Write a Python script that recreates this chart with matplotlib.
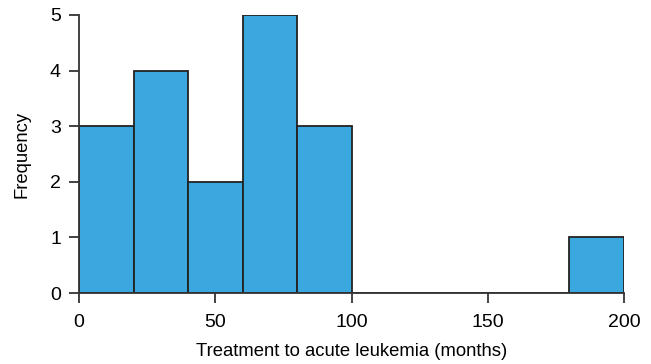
import numpy as np
import matplotlib
matplotlib.use("Agg")
import matplotlib.pyplot as plt

plt.rcParams['font.family'] = ['Liberation Sans', 'DejaVu Sans']

BIN_EDGES = [0, 20, 40, 60, 80, 100, 120, 140, 160, 180, 200]
COUNTS = [3, 4, 2, 5, 3, 0, 0, 0, 0, 1]
X_TICKS = [0, 50, 100, 150, 200]
Y_TICKS = [0, 1, 2, 3, 4, 5]

fig = plt.figure(figsize=(6.51, 3.64), dpi=100)
ax = fig.add_axes([0.1214, 0.195, 0.8371, 0.7638])

left = np.array(BIN_EDGES[:-1])
width = np.diff(BIN_EDGES)
ax.bar(left, COUNTS, width=width, align='edge', color='#3aa8df',
       edgecolor='#222222', linewidth=1.3, zorder=2)

ax.set_xlim(0, 200)
ax.set_ylim(0, 5)
ax.set_xticks(X_TICKS)
ax.set_yticks(Y_TICKS)
ax.spines['top'].set_visible(False)
ax.spines['right'].set_visible(False)
for s in ['left', 'bottom']:
    ax.spines[s].set_linewidth(1.3)
    ax.spines[s].set_color('#333333')
ax.spines['bottom'].set_zorder(3)
ax.tick_params(axis='both', length=7, width=1.3, color='#333333',
               labelsize=14, pad=6)
ax.tick_params(axis='x', pad=8)
ax.set_xlabel('Treatment to acute leukemia (months)', fontsize=13.3, labelpad=9)
ax.set_ylabel('Frequency', fontsize=13.3, labelpad=14)

fig.savefig('out.png', dpi=100)
